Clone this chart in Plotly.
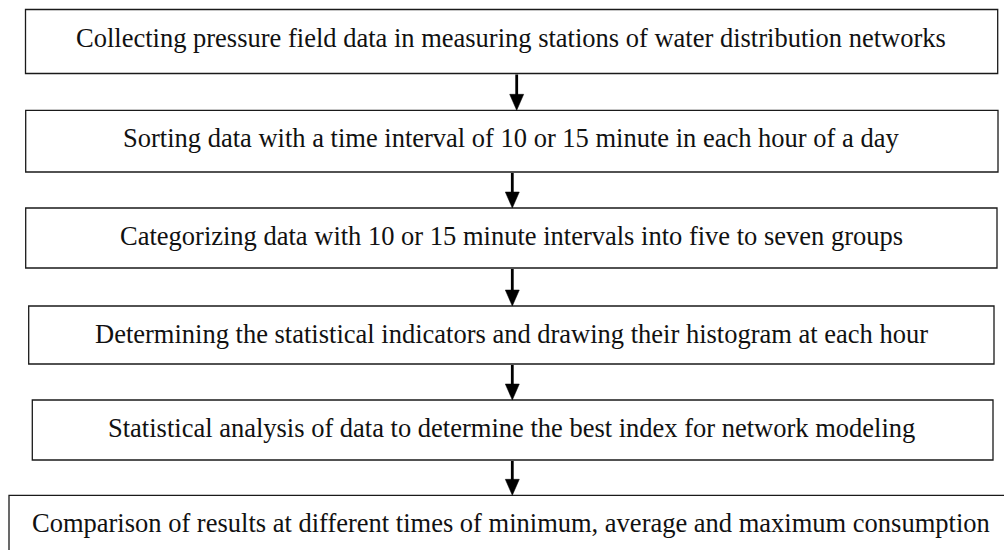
import plotly.graph_objects as go

# Step labels (content)
labels = [
    "Collecting pressure field data in measuring stations of water distribution networks",
    "Sorting data with a time interval of 10 or 15 minute in each hour of a day",
    "Categorizing data with 10 or 15 minute intervals into five to seven groups",
    "Determining the statistical indicators and drawing their histogram at each hour",
    "Statistical analysis of data to determine the best index for network modeling",
    "Comparison of results at different times of minimum, average and maximum consumption",
]

# Layout geometry (page pixel coordinates on the axes)
box_x0 = [25.5, 25.7, 25.7, 28.7, 32.3, 9.0]
box_x1 = [997.7, 998.0, 997.0, 994.0, 993.0, 1012.0]
box_y0 = [9.5, 110.3, 208.0, 306.0, 400.0, 495.3]
box_y1 = [73.5, 172.0, 268.0, 364.0, 460.0, 562.0]
arrow_x = [516.7, 512.3, 512.3, 512.3, 512.3]
text_x = 511.0

W, H = 1004, 550
fig = go.Figure()
fig.add_trace(go.Scatter(x=[0, W], y=[0, H], mode="markers", marker=dict(opacity=0),
                         hoverinfo="skip", showlegend=False))

shapes = []
annotations = []
for i, lab in enumerate(labels):
    shapes.append(dict(type="rect", xref="x", yref="y",
                       x0=box_x0[i], x1=box_x1[i], y0=box_y0[i], y1=box_y1[i],
                       line=dict(color="#1a1a1a", width=1.3), fillcolor="white", layer="below"))
    annotations.append(dict(x=text_x, y=box_y0[i] + 28.0, xref="x", yref="y", text=lab,
                            showarrow=False, xanchor="center", yanchor="middle",
                            font=dict(family="Liberation Serif", size=26.5, color="#111")))

head_h, head_w = 16.0, 7.0
for i, ax in enumerate(arrow_x):
    y_start = box_y1[i] + 1
    y_tip = box_y0[i + 1]
    shapes.append(dict(type="line", xref="x", yref="y", x0=ax, x1=ax, y0=y_start, y1=y_tip - head_h + 2,
                       line=dict(color="black", width=2.8)))
    shapes.append(dict(type="path", xref="x", yref="y",
                       path=f"M {ax - head_w},{y_tip - head_h} L {ax + head_w},{y_tip - head_h} L {ax},{y_tip} Z",
                       fillcolor="black", line=dict(color="black", width=0.5)))

fig.update_layout(
    width=W, height=H, margin=dict(l=0, r=0, t=0, b=0),
    paper_bgcolor="white", plot_bgcolor="white",
    shapes=shapes, annotations=annotations, showlegend=False,
    xaxis=dict(range=[0, W], visible=False, fixedrange=True),
    yaxis=dict(range=[H, 0], visible=False, fixedrange=True),
)
fig.write_html(
    "out.html",
    config={"displayModeBar": False, "staticPlot": True},
    post_script="document.body.style.margin='0';document.documentElement.style.overflow='hidden';",
)
